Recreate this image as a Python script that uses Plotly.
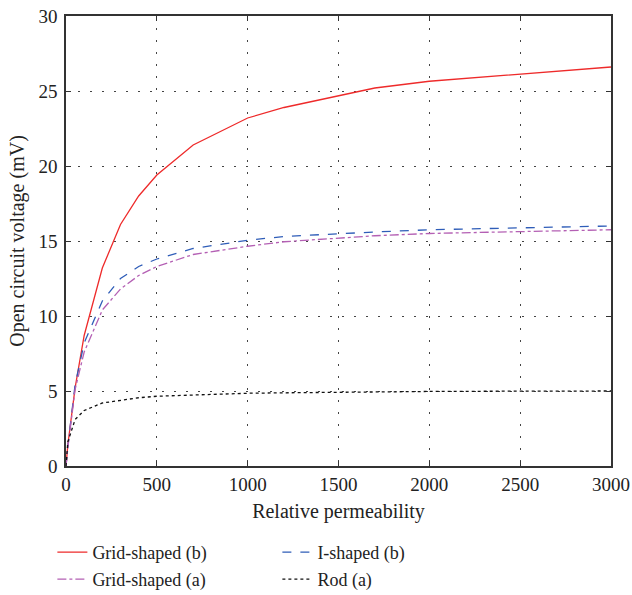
import plotly.graph_objects as go

x_vals = [0, 10, 50, 100, 200, 300, 400, 500, 700, 1000, 1200, 1500, 1700, 2000, 2500, 3000]
grid_b = [0, 1.4, 5.2, 8.7, 13.2, 16.1, 18.0, 19.4, 21.4, 23.2, 23.9, 24.7, 25.2, 25.65, 26.1, 26.6]
i_b = [0, 1.3, 5.4, 8.2, 11.0, 12.5, 13.3, 13.8, 14.5, 15.05, 15.3, 15.5, 15.6, 15.75, 15.9, 16.0]
grid_a = [0, 1.2, 5.1, 7.6, 10.4, 11.8, 12.7, 13.3, 14.1, 14.65, 14.95, 15.2, 15.35, 15.5, 15.65, 15.75]
rod_a = [0, 1.6, 3.1, 3.7, 4.2, 4.4, 4.55, 4.65, 4.75, 4.85, 4.88, 4.92, 4.95, 4.97, 4.99, 5.0]

series = [
    ("Grid-shaped (b)", grid_b, "#EE2A2A", "solid", "legend"),
    ("I-shaped (b)", i_b, "#2F5DB8", "dash", "legend"),
    ("Grid-shaped (a)", grid_a, "#B460B4", "dashdot", "legend2"),
    ("Rod (a)", rod_a, "#111111", "dot", "legend2"),
]

x_ticks = [0, 500, 1000, 1500, 2000, 2500, 3000]
y_ticks = [0, 5, 10, 15, 20, 25, 30]

font_family = "Liberation Serif"
text_color = "#222222"

fig = go.Figure()
for name, ys, color, dash, lg in series:
    fig.add_trace(go.Scatter(
        x=x_vals, y=ys, mode="lines", name=name,
        line=dict(color=color, width=1.3, dash=dash),
        legend=lg,
    ))

axis_common = dict(
    showline=True, linecolor="#333333", linewidth=1.5, mirror="ticks",
    ticks="inside", ticklen=5, tickcolor="#333333", tickwidth=1.2,
    showgrid=True, gridcolor="#444444", gridwidth=1, griddash="2px,10px",
    zeroline=False, automargin=False,
    tickfont=dict(family=font_family, size=19, color=text_color),
)

fig.update_xaxes(
    range=[0, 3000], tickvals=x_ticks, ticklabelstandoff=0,
    title=dict(text="Relative permeability", font=dict(family=font_family, size=20, color=text_color), standoff=10),
    **axis_common,
)
fig.update_yaxes(
    range=[0, 30], tickvals=y_ticks, ticklabelstandoff=3,
    title=dict(text="Open circuit voltage (mV)", font=dict(family=font_family, size=20, color=text_color), standoff=8),
    **axis_common,
)

legend_common = dict(
    orientation="h", xanchor="left", yanchor="top",
    font=dict(family=font_family, size=18, color=text_color),
    bgcolor="rgba(0,0,0,0)", entrywidth=180, entrywidthmode="pixels",
    tracegroupgap=0,
)

fig.update_layout(
    width=632, height=595,
    margin=dict(l=66, r=21, t=16, b=129, autoexpand=False),
    plot_bgcolor="white", paper_bgcolor="white",
    font=dict(family=font_family),
    showlegend=True,
    legend=dict(x=-0.025, y=-0.151, **legend_common),
    legend2=dict(x=-0.025, y=-0.211, **legend_common),
)

fig.write_html(
    "out.html",
    config={"displayModeBar": False},
    post_script="document.body.style.margin='0';",
)
